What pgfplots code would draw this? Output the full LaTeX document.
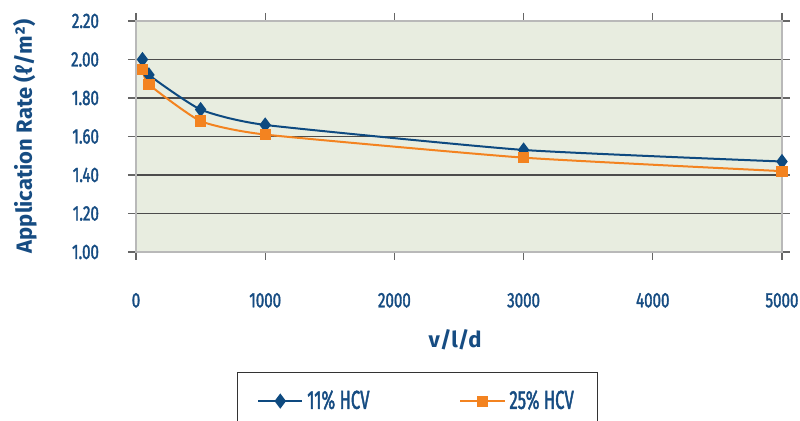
\documentclass[border=0pt]{standalone}
\usepackage{pgfplots}
\pgfplotsset{compat=1.18}
\usepackage{fontspec}
\setmainfont{Fira Sans}
\newfontfamily\condfont[FakeStretch=0.72, FakeBold=1.6]{Fira Sans}
\newfontfamily\legfont[FakeStretch=0.64, FakeBold=1.6]{Fira Sans}
\definecolor{txtblue}{RGB}{22,76,130}
\definecolor{serblue}{RGB}{14,74,128}
\definecolor{serorange}{RGB}{243,131,32}
\definecolor{plotbg}{RGB}{232,237,224}
\begin{document}
\begin{tikzpicture}
\path[use as bounding box] (0,0) rectangle (400pt,210.5pt);
\begin{axis}[
    at={(68pt,84.5pt)}, anchor=south west,
    width=323pt, height=115.5pt, scale only axis,
    xmin=0, xmax=5000, ymin=1.0, ymax=2.2,
    xtick={0,1000,2000,3000,4000,5000},
    ytick={1.0,1.2,1.4,1.6,1.8,2.0,2.2},
    scaled x ticks=false,
    xticklabel style={yshift=-13pt, font=\condfont\fontsize{10.5}{11}\selectfont, text=txtblue},
    yticklabel style={xshift=-11pt, font=\condfont\fontsize{10.5}{11}\selectfont, text=txtblue,
        /pgf/number format/.cd, fixed, fixed zerofill, precision=2},
    /pgf/number format/assume math mode=true,
    xticklabel={\pgfmathprintnumber[fixed,1000 sep={}]{\tick}},
    axis background/.style={fill=plotbg},
    axis line style={draw=gray!55, line width=1pt},
    ymajorgrids, grid style={draw=black!70, line width=0.7pt},
    tick align=outside, major tick length=4pt,
    tick style={draw=black!60, line width=0.6pt},
    xlabel={v/l/d},
    ylabel={Application Rate (ℓ/m²)},
    xlabel style={at={(axis description cs:0.494,-0.381)}, anchor=center, font=\bfseries\fontsize{11}{12}\selectfont, text=txtblue},
    ylabel style={at={(axis description cs:-0.172,0.5)}, anchor=center, rotate=0, font=\bfseries\fontsize{11}{12}\selectfont, text=txtblue},
    legend columns=2,
    legend style={at={(0.156,-0.519)}, anchor=north west, draw=black!80, line width=0.5pt,
        fill=white, inner xsep=10pt, inner ysep=7pt,
        font=\legfont\fontsize{13}{14}\selectfont, text=txtblue,
        /tikz/every even column/.append style={column sep=43pt}},
    legend image code/.code={
        \draw[#1, mark repeat=2, mark phase=2] plot coordinates {(0pt,0pt) (11pt,0pt) (22pt,0pt)};},
]
\addplot[serblue, line width=1pt, smooth, tension=0.3, mark=diamond*, mark size=3pt,
    mark options={fill=serblue, solid}] coordinates {
    (50,2.00) (100,1.92) (500,1.74) (1000,1.66) (3000,1.53) (5000,1.47)};
\addlegendentry{11\% HCV}
\addplot[serorange, line width=1pt, smooth, tension=0.3, mark=square*, mark size=2.3pt,
    mark options={fill=serorange, solid}] coordinates {
    (50,1.95) (100,1.87) (500,1.68) (1000,1.61) (3000,1.49) (5000,1.42)};
\addlegendentry{25\% HCV}
\end{axis}
\end{tikzpicture}
\end{document}
